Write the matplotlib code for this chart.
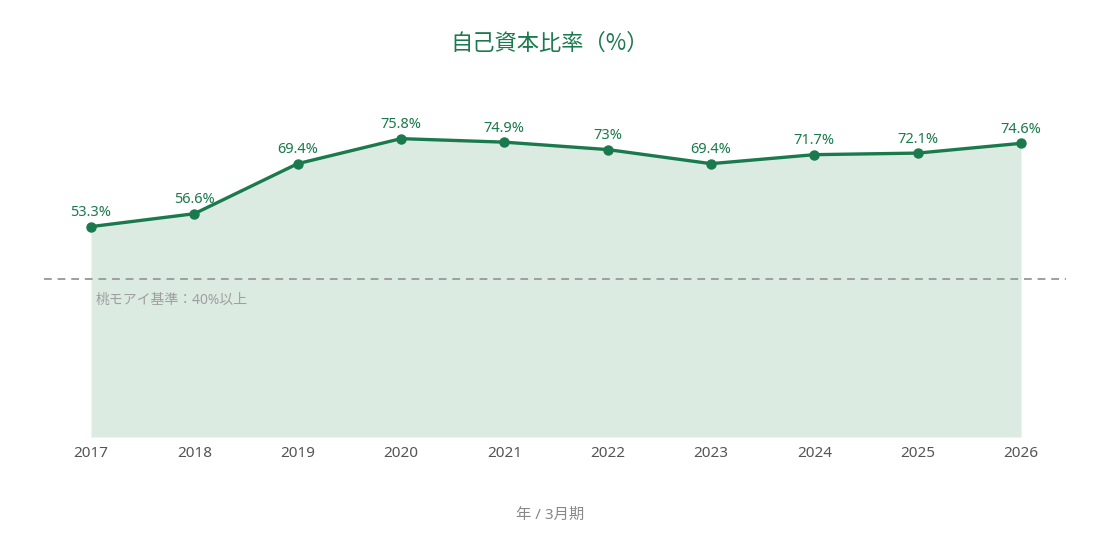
import matplotlib
matplotlib.use('Agg')
import matplotlib.pyplot as plt

plt.rcParams['font.family'] = ['Noto Sans', 'Noto Sans CJK JP', 'DejaVu Sans']

years = [2017, 2018, 2019, 2020, 2021, 2022, 2023, 2024, 2025, 2026]
ratio = [53.3, 56.6, 69.4, 75.8, 74.9, 73.0, 69.4, 71.7, 72.1, 74.6]
labels = ['53.3%', '56.6%', '69.4%', '75.8%', '74.9%', '73%', '69.4%', '71.7%', '72.1%', '74.6%']
baseline = 40

green = '#1b7a4d'
fill_c = '#dcebe2'

fig = plt.figure(figsize=(11, 5.39), dpi=100)
ax = fig.add_axes([44/1100, 1 - 437/539, 1022/1100, 393/539])
ax.set_ylim(-0.5, 100)
ax.set_xlim(2016.545, 2026.4355)

ax.fill_between(years, ratio, ax.get_ylim()[0], color=fill_c, linewidth=0)
ax.plot(years, ratio, color=green, linewidth=2.4, marker='o', markersize=6.5, zorder=3)
for x, y, t in zip(years, ratio, labels):
    ax.annotate(t, (x, y), xytext=(0, 4.5), textcoords='offset points',
                ha='center', va='bottom', fontsize=10.5, color=green)

ax.axhline(baseline, color='#9e9e9e', linestyle=(0, (4, 3)), linewidth=1.4, zorder=2)
ax.annotate('桃モアイ基準：40%以上', (years[0], baseline), xytext=(3, -10),
            textcoords='offset points', ha='left', va='top', fontsize=10, color='#9e9e9e')

ax.set_xticks(years)
ax.set_xticklabels([str(y) for y in years])
ax.set_yticks([])
ax.tick_params(axis='x', length=0, pad=6.5, labelsize=11, labelcolor='#555555')
for s in ax.spines.values():
    s.set_visible(False)

fig.text(0.5, 1 - 43/539, '自己資本比率（%）', ha='center', va='center', fontsize=16, color=green,
         family=['Noto Sans CJK JP', 'DejaVu Sans'])
fig.text(0.5, 1 - 515/539, '年 / 3月期', ha='center', va='center', fontsize=11, color='#888888')

fig.savefig('out.png', dpi=100)
